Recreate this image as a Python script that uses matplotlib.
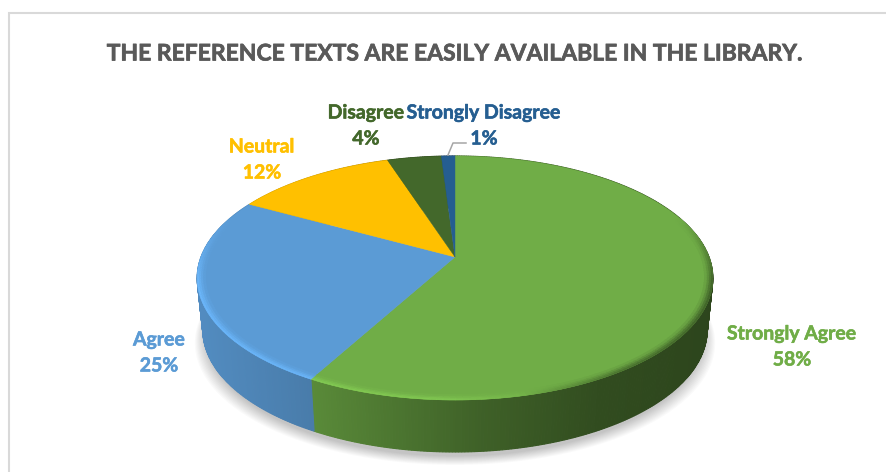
import numpy as np
import matplotlib
matplotlib.use('Agg')
import matplotlib.pyplot as plt
import matplotlib.patheffects as pe

# valores do grafico
labels = ['Strongly Agree', 'Agree', 'Neutral', 'Disagree', 'Strongly Disagree']
shares = [58, 25, 12, 4, 1]
colors = ['#70ad47', '#5b9bd5', '#ffc000', '#43682b', '#255e91']
title = 'THE REFERENCE TEXTS ARE EASILY AVAILABLE IN THE LIBRARY.'

plt.rcParams['font.family'] = ['Lato', 'DejaVu Sans']

fig = plt.figure(figsize=(8.87, 4.72), dpi=100)
ax = fig.add_axes([0, 0, 1, 1])
ax.set_xlim(0, 887)
ax.set_ylim(472, 0)
ax.axis('off')


# disco unitario para a tela, com perspectiva (fundo menor que a frente)
def project(theta, r=1.0, drop=0.0, narrow=1.0):
    u = r * np.sin(theta)
    v = r * np.cos(theta)
    w = 1 + 0.172 * v
    return 455 + 254 * narrow * u / w, 257 - 118.4 * v / w + drop


def rgb(c):
    return np.array(matplotlib.colors.to_rgb(c))


def mix(c1, c2, t):
    return tuple(np.clip(rgb(c1) * (1 - t) + rgb(c2) * t, 0, 1))


def wall_factor(x):
    return np.interp(x, [200, 310, 480, 600, 713], [0.90, 0.80, 0.56, 0.44, 0.40])


# moldura (so topo e esquerda aparecem)
ax.plot([9, 9, 887], [472, 12.5, 12.5], color='#d9d9d9', lw=1.5, solid_joinstyle='miter')

# sombra suave
full = np.linspace(0, 2 * np.pi, 240)
for k in range(12):
    grow = 1.035 - k * 0.004
    sx, sy = project(full, r=1.0, drop=56 + 9 - k * 0.8, narrow=0.975 * grow)
    ax.fill(sx, sy, color='black', alpha=0.018, lw=0)

edges = np.cumsum([0] + shares) / sum(shares) * 2 * np.pi

# parede lateral
for i, c in enumerate(colors):
    th = np.linspace(edges[i], edges[i + 1], max(3, shares[i] * 6))
    for a, b in zip(th[:-1], th[1:]):
        x0, y0 = project(a)
        x1, y1 = project(b)
        x2, y2 = project(b, drop=52, narrow=0.978)
        x3, y3 = project(a, drop=52, narrow=0.978)
        col = mix('black', c, wall_factor((x0 + x1) / 2))
        ax.fill([x0, x1, x2, x3], [y0, y1, y2, y3], color=col, lw=0.8)

# faces de cima
for i, c in enumerate(colors):
    th = np.linspace(edges[i], edges[i + 1], max(3, shares[i] * 3))
    px, py = project(th)
    cx, cy = project(0.0, r=0.0)
    ax.fill(np.r_[cx, px], np.r_[cy, py], color=c, lw=0.3)

# chanfro na borda da frente
rings = [1.0, 0.992, 0.984, 0.976, 0.968]
ring_weight = [0.95, 0.7, 0.4, 0.15]
for i, c in enumerate(colors):
    th = np.linspace(edges[i], edges[i + 1], max(3, shares[i] * 3))
    bright = tuple(np.clip(rgb(c) * 1.18, 0, 1))
    for a, b in zip(th[:-1], th[1:]):
        mid = (a + b) / 2
        vis = np.clip((0.35 - np.cos(mid)) / 0.55, 0, 1)
        if vis == 0:
            continue
        xm, _ = project(mid)
        for j in range(4):
            x0, y0 = project(a, r=rings[j])
            x1, y1 = project(b, r=rings[j])
            x2, y2 = project(b, r=rings[j + 1])
            x3, y3 = project(a, r=rings[j + 1])
            light = np.interp(xm, [200, 440, 560], [1.0, 0.9, 0.0])
            dark = np.interp(xm, [520, 620, 713], [0.0, 0.6, 0.75])
            col = mix(c, bright, light * ring_weight[j] * vis)
            col = mix(col, mix('black', c, 0.42), dark * ring_weight[j] * vis)
            ax.fill([x0, x1, x2, x3], [y0, y1, y2, y3], color=col, lw=0.4)

# linha de chamada do 1%
ax.plot([448, 453, 466], [155, 143, 143], color='#a6a6a6', lw=1.1)

# rotulos
label_pos = [(792, 334), (159, 340), (262, 147), (366, 113), (484, 113)]
for name, val, c, (x, y) in zip(labels, shares, colors, label_pos):
    for s, yy in ((name, y), (f'{val}%', y + 26)):
        t = ax.text(x, yy, s, color=c, fontsize=14, fontweight='bold', ha='center', va='center')
        t.set_path_effects([pe.withStroke(linewidth=0.4, foreground=c)])

t = ax.text(455, 54, title, color='#595959', fontsize=16.5, fontweight='bold', ha='center', va='center')
t.set_path_effects([pe.withStroke(linewidth=0.5, foreground='#595959')])

fig.savefig('out.png', dpi=100)
